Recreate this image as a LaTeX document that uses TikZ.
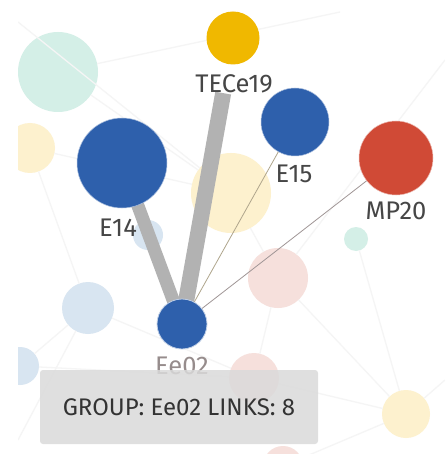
\documentclass[tikz,border=0pt]{standalone}
\usepackage{fontspec}
\setmainfont{Fira Sans}
\begin{document}
\begin{tikzpicture}[x=1pt,y=-1pt,
  every node/.style={inner sep=0pt,outer sep=0pt},
  mainnode/.style={circle,minimum size=#1},
  faint/.style={circle,minimum size=#1},
  bgline/.style={draw=black!4,line width=1.3pt},
  lbl/.style={text=labelgray,font=\fontsize{25.5}{25.5}\selectfont},
  heavylink/.style={draw=linkgray,line cap=butt},
  thinlink/.style={draw=#1,line width=0.8pt}]
\definecolor{nblue}{RGB}{46,96,172}
\definecolor{nyellow}{RGB}{240,184,0}
\definecolor{nred}{RGB}{208,74,54}
\definecolor{fteal}{RGB}{212,239,231}
\definecolor{fyellow}{RGB}{253,241,206}
\definecolor{fblue}{RGB}{216,229,241}
\definecolor{fpink}{RGB}{246,224,220}
\definecolor{linkgray}{RGB}{178,178,178}
\definecolor{labelgray}{RGB}{70,70,70}
\definecolor{tipgray}{RGB}{218,218,218}
\definecolor{tanlink}{RGB}{175,165,140}
\definecolor{pinklink}{RGB}{160,150,150}
\definecolor{fadelabel}{RGB}{150,140,140}
\useasboundingbox (0,0) rectangle (445,454);
\fill[white] (0,0) rectangle (445,454);
\begin{scope}
\clip (18,12) rectangle (445,454);
% faint background nodes
\node[faint=80pt,fill=fteal] (f1) at (58,72) {};
\node[faint=50pt,fill=fyellow] (f2) at (30,148) {};
\node[faint=80pt,fill=fyellow] (f3) at (231,193) {};
\node[faint=30pt,fill=fblue] (f4) at (148,235) {};
\node[faint=24pt,fill=fteal] (f5) at (356,239) {};
\node[faint=60pt,fill=fpink] (f6) at (278,278) {};
\node[faint=52pt,fill=fblue] (f7) at (88,308) {};
\node[faint=38pt,fill=fblue] (f8) at (20,366) {};
\node[faint=50pt,fill=fpink] (f9) at (254,378) {};
\node[faint=48pt,fill=fyellow] (f10) at (406,414) {};
\node[faint=40pt,fill=fpink] (f11) at (283,466) {};
\coordinate (c1) at (18,22);
\coordinate (c2) at (445,60);
\coordinate (c3) at (445,380);
\coordinate (c4) at (18,440);
\coordinate (c5) at (340,12);
% faint background links
\draw[bgline] (f1) -- (f3);
\draw[bgline] (f1) -- (c5);
\draw[bgline] (c1) -- (f3);
\draw[bgline] (f2) -- (f7);
\draw[bgline] (f7) -- (f8);
\draw[bgline] (f7) -- (f9);
\draw[bgline] (f6) -- (f10);
\draw[bgline] (f9) -- (f10);
\draw[bgline] (f5) -- (f10);
\draw[bgline] (f3) -- (f6);
\draw[bgline] (f8) -- (f9);
\draw[bgline] (f10) -- (c3);
\draw[bgline] (f11) -- (f10);
\draw[bgline] (f6) -- (c2);
\draw[bgline] (f7) -- (c4);
\draw[bgline] (f2) -- (f3);
\draw[bgline] (f9) -- (f6);
\end{scope}
% main nodes (positions)
\coordinate (pT) at (233,38);
\coordinate (p15) at (295,122);
\coordinate (pM) at (396,158);
\coordinate (p14) at (122,163);
\coordinate (pE) at (182,324);
% links
\draw[heavylink,line width=13pt] (p14) -- (pE);
\draw[heavylink,line width=16pt,shorten <=56pt] (pT) -- (pE);
\draw[thinlink=tanlink] (pE) -- (p15);
\draw[thinlink=pinklink] (pE) -- (pM);
% circles
\node[mainnode=53pt,fill=nyellow] (TECe19) at (pT) {};
\node[mainnode=68pt,fill=nblue,draw=nblue!40!white,line width=0.5pt] (E15) at (p15) {};
\node[mainnode=74pt,fill=nred,draw=nred!40!white,line width=0.5pt] (MP20) at (pM) {};
\node[mainnode=90pt,fill=nblue,draw=nblue!40!white,line width=0.5pt] (E14) at (p14) {};
\node[mainnode=50pt,fill=nblue,draw=nblue!30!white,line width=0.8pt] (Ee02) at (pE) {};
% labels
\node[lbl] (lT) at (234,84) {TECe19};
\node[lbl] (l15) at (294,174) {E15};
\node[lbl] (lM) at (396,211) {MP20};
\node[lbl] (l14) at (118,228) {E14};
\node[lbl,text=fadelabel] (lE) at (182,366) {Ee02};
% tooltip
\node[fill=tipgray,fill opacity=0.85,text opacity=1,rounded corners=3pt,
  minimum width=278pt,minimum height=74pt,text=black!80,
  font=\fontsize{24}{24}\selectfont] (tip) at (179,407) {GROUP: Ee02 LINKS: 8};
\end{tikzpicture}
\end{document}
